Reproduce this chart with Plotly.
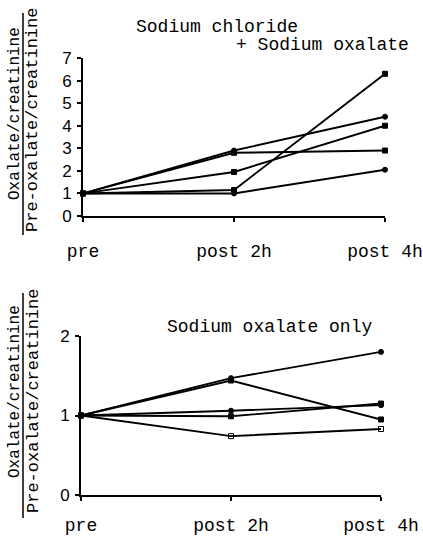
import plotly.graph_objects as go

categories = ["pre", "post 2h", "post 4h"]
x_pos = [0, 1, 2]

# Top panel: Sodium chloride + Sodium oxalate
top_a = [1.0, 2.9, 4.4]
top_b = [1.0, 2.8, 2.9]
top_c = [1.0, 1.95, 4.0]
top_d = [1.0, 1.15, 6.3]
top_e = [1.0, 1.0, 2.05]
top_series = [top_a, top_b, top_c, top_d, top_e]
top_symbols = ["circle", "square", "square", "square", "circle"]

# Bottom panel: Sodium oxalate only
bot_a = [1.0, 1.47, 1.8]
bot_b = [1.0, 1.44, 0.95]
bot_c = [1.0, 1.06, 1.13]
bot_d = [1.0, 0.99, 1.15]
bot_e = [1.0, 0.74, 0.83]
bot_series = [bot_a, bot_b, bot_c, bot_d, bot_e]
bot_symbols = ["circle", "square", "circle", "square", "square-open"]

top_ticks = [0, 1, 2, 3, 4, 5, 6, 7]
bot_ticks = [0, 1, 2]

W, H = 423, 537
MONO = "Liberation Mono"
SANS = "Liberation Sans"

fig = go.Figure()

for ys, sym in zip(top_series, top_symbols):
    fig.add_trace(go.Scatter(x=x_pos, y=ys, mode="lines+markers",
                             line=dict(color="black", width=1.9),
                             marker=dict(symbol=sym, size=5, color="black",
                                         line=dict(color="black", width=1)),
                             xaxis="x", yaxis="y", showlegend=False,
                             cliponaxis=False))

for ys, sym in zip(bot_series, bot_symbols):
    fig.add_trace(go.Scatter(x=x_pos, y=ys, mode="lines+markers",
                             line=dict(color="black", width=1.9),
                             marker=dict(symbol=sym, size=5, color="black",
                                         line=dict(color="black", width=1)),
                             xaxis="x2", yaxis="y2", showlegend=False,
                             cliponaxis=False))

def px_x(p):
    return p / W

def px_y(p):
    return 1 - p / H

xcommon = dict(range=[0, 2], tickvals=x_pos, ticktext=categories,
               showgrid=False, zeroline=False, showline=True,
               linecolor="black", linewidth=2, ticks="outside", ticklen=4,
               tickwidth=1.5, tickcolor="black", automargin=False,
               tickfont=dict(family=MONO, size=18, color="black"),
               fixedrange=True)
ycommon = dict(showgrid=False, zeroline=False, showline=True,
               linecolor="black", linewidth=2, ticks="outside", ticklen=4,
               tickwidth=1.5, tickcolor="black", automargin=False,
               tickfont=dict(family=SANS, size=17, color="black"),
               ticklabelstandoff=2, fixedrange=True)

fig.update_layout(
    width=W, height=H,
    margin=dict(l=0, r=0, t=0, b=0, autoexpand=False),
    paper_bgcolor="white", plot_bgcolor="white",
    xaxis=dict(domain=[px_x(83), px_x(385)], anchor="y",
               ticklabelstandoff=13, **xcommon),
    yaxis=dict(domain=[px_y(216), px_y(58)], anchor="x", range=[0, 7],
               tickvals=top_ticks, **ycommon),
    xaxis2=dict(domain=[px_x(81), px_x(381)], anchor="y2",
                ticklabelstandoff=8, **xcommon),
    yaxis2=dict(domain=[px_y(495), px_y(336)], anchor="x2", range=[0, 2],
                tickvals=bot_ticks, **ycommon),
)

annots = [
    dict(text="Sodium chloride", x=px_x(134), y=px_y(27), xanchor="left"),
    dict(text="+ Sodium oxalate", x=px_x(234), y=px_y(45), xanchor="left"),
    dict(text="Sodium oxalate only", x=px_x(165), y=px_y(327), xanchor="left"),
]
for a in annots:
    fig.add_annotation(xref="paper", yref="paper", yanchor="middle",
                       showarrow=False, font=dict(family=MONO, size=18, color="black"),
                       text=a["text"], x=a["x"], y=a["y"], xanchor=a["xanchor"])

# y-axis titles as fractions
for num_y, den_y, bar_top, bar_bot in [(114, 120, 13, 235), (392, 401, 293, 518)]:
    fig.add_annotation(xref="paper", yref="paper", x=px_x(15), y=px_y(num_y),
                       xanchor="center", yanchor="middle", textangle=-90,
                       showarrow=False, text="Oxalate/creatinine",
                       font=dict(family=MONO, size=16, color="black"))
    fig.add_annotation(xref="paper", yref="paper", x=px_x(33), y=px_y(den_y),
                       xanchor="center", yanchor="middle", textangle=-90,
                       showarrow=False, text="Pre-oxalate/creatinine",
                       font=dict(family=MONO, size=17, color="black"))
    fig.add_shape(type="line", xref="paper", yref="paper",
                  x0=px_x(23), x1=px_x(23), y0=px_y(bar_top), y1=px_y(bar_bot),
                  line=dict(color="black", width=1.5))

fig.write_html(
    "out.html",
    config={"displayModeBar": False},
    post_script="document.body.style.margin='0';document.body.style.overflow='hidden';",
)
